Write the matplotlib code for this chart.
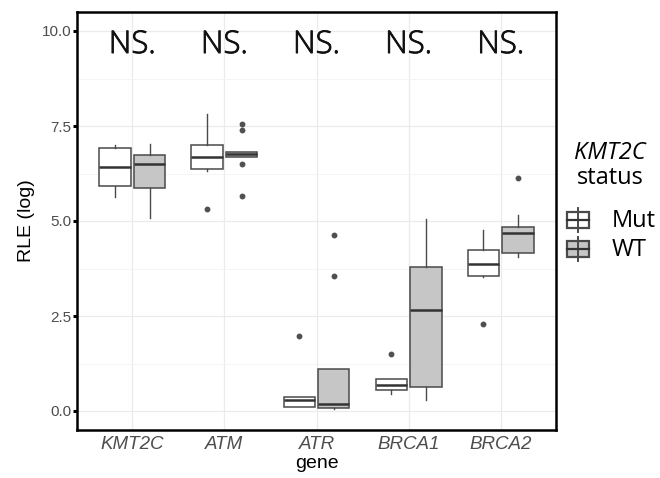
import matplotlib
matplotlib.use("Agg")
import matplotlib.pyplot as plt
import matplotlib.patheffects as pe
from matplotlib.patches import Rectangle
from matplotlib.lines import Line2D

# ---- data ----
genes = ["KMT2C", "ATM", "ATR", "BRCA1", "BRCA2"]
groups = ["Mut", "WT"]

mut_whislo = [5.64, 6.32, 0.10, 0.45, 3.52]
mut_q1     = [5.92, 6.38, 0.10, 0.54, 3.55]
mut_med    = [6.41, 6.68, 0.28, 0.68, 3.87]
mut_q3     = [6.93, 6.99, 0.37, 0.83, 4.25]
mut_whishi = [7.00, 7.81, 0.37, 0.83, 4.76]
mut_fliers = [[], [5.32], [1.97], [1.50], [2.28]]

wt_whislo = [5.07, 6.69, 0.04, 0.29, 4.06]
wt_q1     = [5.87, 6.69, 0.09, 0.64, 4.15]
wt_med    = [6.51, 6.76, 0.18, 2.65, 4.68]
wt_q3     = [6.74, 6.81, 1.10, 3.79, 4.85]
wt_whishi = [7.03, 6.81, 1.10, 5.04, 5.16]
wt_fliers = [[], [7.56, 7.39, 6.49, 5.67], [4.63, 3.54], [], [6.12]]

sig_labels = ["NS.", "NS.", "NS.", "NS.", "NS."]
sig_y = 9.42

yticks = [0.0, 2.5, 5.0, 7.5, 10.0]

fills = {"Mut": "white", "WT": "#C6C6C6"}
edge = "#4A4A4A"

W, H = 660, 478
fig = plt.figure(figsize=(6.6, 4.78), dpi=100)
ax = fig.add_axes([77 / W, 1 - 430 / H, 479 / W, 418 / H])

def stats(lo, q1, med, q3, hi, fl):
    return [dict(whislo=a, q1=b, med=c, q3=d, whishi=e, fliers=f)
            for a, b, c, d, e, f in zip(lo, q1, med, q3, hi, fl)]

sets = {
    "Mut": stats(mut_whislo, mut_q1, mut_med, mut_q3, mut_whishi, mut_fliers),
    "WT": stats(wt_whislo, wt_q1, wt_med, wt_q3, wt_whishi, wt_fliers),
}
offsets = {"Mut": -0.1875, "WT": 0.1875}
for g in groups:
    pos = [i + 1 + offsets[g] for i in range(len(genes))]
    ax.bxp(sets[g], positions=pos, widths=0.34, patch_artist=True,
           showcaps=False,
           boxprops=dict(facecolor=fills[g], edgecolor=edge, linewidth=1.1),
           medianprops=dict(color="#333333", linewidth=1.8),
           whiskerprops=dict(color=edge, linewidth=1.0),
           flierprops=dict(marker="o", markersize=3.2, markerfacecolor="#505050",
                           markeredgecolor="#505050", linestyle="none"),
           zorder=3)

for i, s in enumerate(sig_labels):
    ax.text(i + 1, sig_y, s, ha="center", va="baseline", fontsize=22.5,
            family="Open Sans", fontweight="light", color="#111111", zorder=4,
            path_effects=[pe.withStroke(linewidth=0.6, foreground="#111111")])

ax.set_xlim(0.4, 5.6)
ax.set_ylim(-0.5, 10.5)
ax.set_xticks(range(1, len(genes) + 1))
ax.set_xticklabels(genes, fontstyle="italic", fontsize=13.5, color="#4D4D4D",
                   family="Liberation Sans")
ax.set_yticks(yticks)
ax.set_yticklabels([f"{v:.1f}" for v in yticks], fontsize=11, color="#4D4D4D",
                   family="Liberation Sans")
ax.set_yticks([1.25, 3.75, 6.25, 8.75], minor=True)
ax.tick_params(axis="y", which="major", length=3, width=2.2, color="black", pad=1)
ax.tick_params(axis="y", which="minor", length=0)
ax.tick_params(axis="x", length=0, pad=4)
ax.grid(True, which="major", color="#EBEBEB", linewidth=0.9, zorder=0)
ax.grid(True, which="minor", axis="y", color="#F3F3F3", linewidth=0.6, zorder=0)
ax.set_axisbelow(True)
for sp in ax.spines.values():
    sp.set_linewidth(1.8)
    sp.set_color("black")

ax.set_ylabel("RLE (log)", fontsize=14, family="Liberation Sans", labelpad=5)
ax.set_xlabel("gene", fontsize=14, family="Liberation Sans", labelpad=2)

# ---- legend, drawn by hand in figure pixel coordinates ----
def fx(px):
    return px / W

def fy(py):
    return 1 - py / H

fig.text(fx(610), fy(153), "KMT2C", ha="center", va="center", fontsize=17,
         family="Open Sans", fontstyle="italic")
fig.text(fx(610), fy(178), "status", ha="center", va="center", fontsize=17,
         family="Open Sans")

key_cy = {"Mut": 220, "WT": 249}
for g in groups:
    cy = key_cy[g]
    x0, x1 = 567, 589
    cx = (x0 + x1) / 2
    fig.add_artist(Line2D([fx(cx), fx(cx)], [fy(cy - 12), fy(cy + 12)],
                          color=edge, linewidth=1.4))
    fig.add_artist(Rectangle((fx(x0), fy(cy + 8)), fx(x1 - x0), (16 / H),
                             facecolor=fills[g], edgecolor=edge, linewidth=1.6,
                             transform=fig.transFigure))
    fig.add_artist(Line2D([fx(x0), fx(x1)], [fy(cy), fy(cy)],
                          color="#333333", linewidth=1.6))
    fig.text(fx(612), fy(cy + 1), g, ha="left", va="center", fontsize=17,
             family="Open Sans")

fig.savefig("out.png", dpi=100)
